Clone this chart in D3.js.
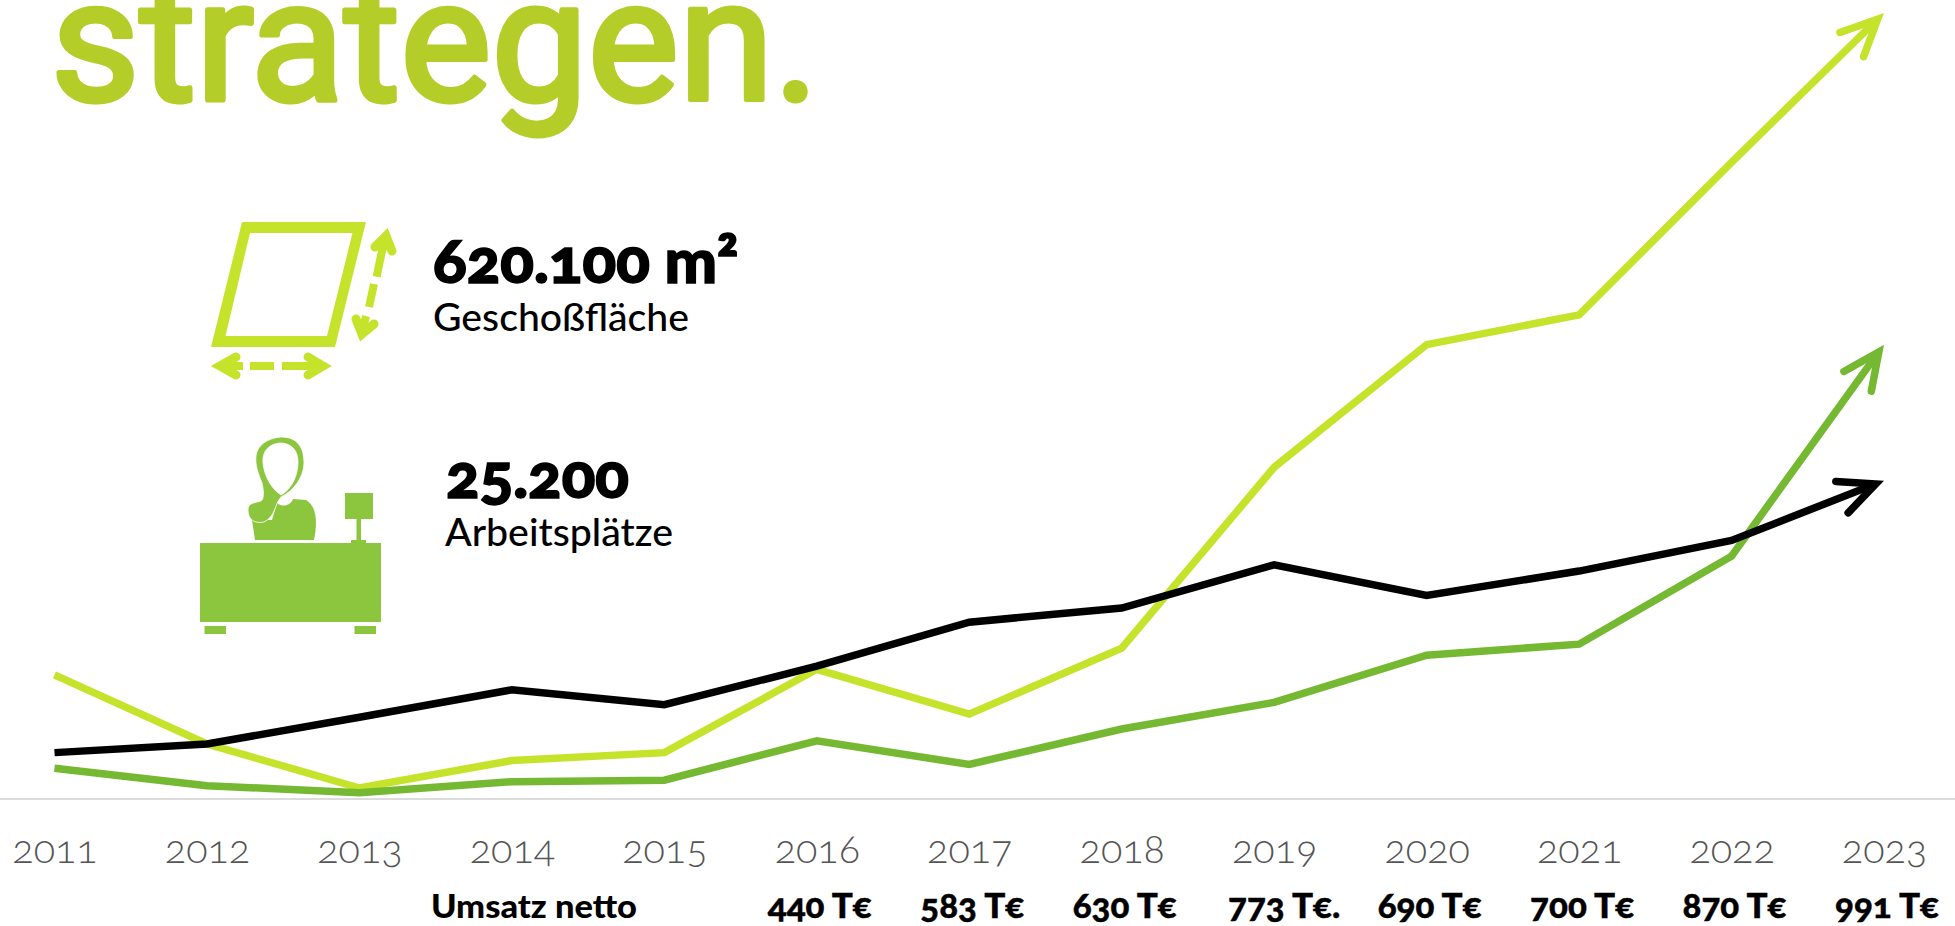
<!DOCTYPE html>
<html>
<head>
<meta charset="utf-8">
<style>
  html, body { margin: 0; padding: 0; background: #fff; overflow: hidden; }
  svg { display: block; }
  text { font-family: Lato, "Open Sans", sans-serif; font-variant-numeric: oldstyle-nums; }
</style>
<script src="https://cdn.jsdelivr.net/npm/d3@7/dist/d3.min.js"></script>
</head>
<body>
<svg id="chart" width="1955" height="926"></svg>
<script>
// data (index, no unit given in the original)
var years = [2011, 2012, 2013, 2014, 2015, 2016, 2017, 2018, 2019, 2020, 2021, 2022, 2023];
var flaeche = [15.8, 7.0, 1.4, 4.9, 5.9, 16.5, 10.8, 19.2, 42.2, 57.8, 61.6, 81.0, 100];
var arbeitsplaetze = [3.9, 1.7, 0.8, 2.2, 2.4, 7.4, 4.4, 8.9, 12.3, 18.3, 19.7, 30.9, 57.8];
var umsatz = [5.9, 7.0, 10.4, 13.9, 12.0, 16.9, 22.5, 24.3, 29.8, 25.9, 29.0, 32.9, 40.5];
var umsatzYears = [2016, 2017, 2018, 2019, 2020, 2021, 2022, 2023];
var umsatzLabels = ['440 T€', '583 T€', '630 T€', '773 T€.', '690 T€', '700 T€', '870 T€', '991 T€'];

var LIGHT = '#c5e32b', GREEN = '#75b832', ICON = '#8cc63f', TITLE = '#b5cd28';

var svg = d3.select('#chart');
var x = d3.scalePoint().domain(years).range([54.5, 1884]);
var y = d3.scaleLinear().domain([0, 100]).range([799, 13]);

// title, cut off by the top edge like in the original
svg.append('text')
  .attr('x', 51).attr('y', 100)
  .attr('textLength', 768).attr('lengthAdjust', 'spacingAndGlyphs')
  .style('font-family', 'Roboto').style('font-weight', 400).style('font-size', '170px')
  .attr('fill', TITLE).attr('stroke', TITLE).attr('stroke-width', 5).attr('stroke-linejoin', 'round')
  .text('strategen.');

// axis
svg.append('line')
  .attr('x1', 0).attr('x2', 1955).attr('y1', 799).attr('y2', 799)
  .attr('stroke', '#dcdcdc').attr('stroke-width', 2);

var axis = svg.append('g')
  .attr('transform', 'translate(0,799)')
  .call(d3.axisBottom(x).tickSize(0).tickPadding(0));
axis.select('.domain').remove();
axis.selectAll('text')
  .attr('y', 64).attr('dy', 0)
  .style('font-size', '39.5px').style('font-weight', 300)
  .attr('fill', '#555');

// line series with arrow heads
var line = d3.line()
  .x(function(d, i) { return x(years[i]); })
  .y(function(d) { return y(d); });

var series = [
  { id: 'flaeche', values: flaeche, color: LIGHT },
  { id: 'arbeit', values: arbeitsplaetze, color: GREEN },
  { id: 'umsatz', values: umsatz, color: '#000' }
];

var defs = svg.append('defs');
var headLen = 40, headAngle = 25 * Math.PI / 180, headW = 7.5;
var apex = -(headW / 2) / Math.sin(headAngle);
var bx = apex - headLen * Math.cos(headAngle), by = headLen * Math.sin(headAngle);

series.forEach(function(s) {
  defs.append('marker')
    .attr('id', 'head-' + s.id)
    .attr('markerUnits', 'userSpaceOnUse')
    .attr('viewBox', '-60 -30 70 60')
    .attr('markerWidth', 70).attr('markerHeight', 60)
    .attr('refX', 0).attr('refY', 0)
    .attr('orient', 'auto')
    .append('path')
    .attr('d', 'M' + bx + ',' + (-by) + 'L' + apex + ',0L' + bx + ',' + by)
    .attr('fill', 'none').attr('stroke', s.color).attr('stroke-width', headW)
    .attr('stroke-linecap', 'round').attr('stroke-linejoin', 'miter');
});

svg.selectAll('path.serie')
  .data(series)
  .enter()
  .append('path')
  .attr('class', 'serie')
  .attr('d', function(d) { return line(d.values); })
  .attr('fill', 'none')
  .attr('stroke', function(d) { return d.color; })
  .attr('stroke-width', 7.5)
  .attr('stroke-linejoin', 'miter')
  .attr('marker-end', function(d) { return 'url(#head-' + d.id + ')'; })
  .attr('stroke-dasharray', function() {
    // stop the shaft short so it does not poke through the arrow tip
    return (this.getTotalLength() - 12) + ' 9999';
  });

// umsatz row
svg.append('text')
  .attr('x', 431).attr('y', 918)
  .attr('textLength', 206).attr('lengthAdjust', 'spacingAndGlyphs')
  .style('font-size', '32px').style('font-weight', 900)
  .text('Umsatz netto');

svg.selectAll('text.umsatz')
  .data(umsatzLabels)
  .enter()
  .append('text')
  .attr('class', 'umsatz')
  .attr('x', function(d, i) {
    // the stray full stop after 773 pushes that label a bit to the right
    return x(umsatzYears[i]) + (d.slice(-1) === '.' ? 10 : 3);
  })
  .attr('y', 918)
  .attr('text-anchor', 'middle')
  .style('font-size', '35px').style('font-weight', 900)
  .attr('stroke', '#000').attr('stroke-width', 0.4)
  .text(function(d) { return d; });

// floor area icon
var area = svg.append('g').attr('fill', LIGHT);
area.append('path')
  .attr('fill-rule', 'evenodd')
  .attr('d', 'M242,222L366,222L335,347L211,347ZM250,233L225.5,336L327,336L352.5,233Z');

var dash = svg.append('g')
  .attr('fill', 'none').attr('stroke', LIGHT).attr('stroke-width', 8);
dash.append('path').attr('d', 'M225,366H243M250,366H274M282,366H318');
dash.append('path').attr('d', 'M386,238L381.6,252.7L376.6,276.7M374,284L369,307M366,316L362,332');

var heads = svg.append('g')
  .attr('fill', 'none').attr('stroke', LIGHT).attr('stroke-width', 9)
  .attr('stroke-linecap', 'round').attr('stroke-linejoin', 'miter');
heads.append('path').attr('d', 'M236,357L220,366L236,375');
heads.append('path').attr('d', 'M308,357L323,366L308,375');
heads.append('path').attr('d', 'M375,247L386,236L392,251');
heads.append('path').attr('d', 'M356,319L362,334L374,324');

// desk icon
var desk = svg.append('g').attr('fill', ICON);
desk.append('rect').attr('x', 200).attr('y', 543).attr('width', 181).attr('height', 79);
desk.append('rect').attr('x', 204.5).attr('y', 626).attr('width', 21.5).attr('height', 8);
desk.append('rect').attr('x', 354.5).attr('y', 626).attr('width', 21.5).attr('height', 8);
desk.append('rect').attr('x', 345).attr('y', 493).attr('width', 28).attr('height', 26);
desk.append('rect').attr('x', 356.5).attr('y', 519).attr('width', 4.5).attr('height', 22);
desk.append('rect').attr('x', 351).attr('y', 540).attr('width', 15).attr('height', 3);
desk.append('path')
  .attr('d', 'M252,520L255,540L314,540C317,525 318,507 306,500L293,499C291,505 283,508 277,503L272,520Z');
desk.append('path')
  .attr('fill-rule', 'evenodd')
  .attr('d', 'M281,437C298,437 304,448 304,463C304,478 292,492 281,497C274,505 276,516 264,522C255,524 248,520 248,510C248,503 254,503 261,501C264,499 264,492 262,483C258,473 255,465 256,456C257,445 268,438 281,437Z' +
    'M280,443C268,444 262,452 263,463C264,474 270,488 281,495C292,489 298,475 298,462C298,450 291,443 280,443Z')
  .attr('stroke', '#fff').attr('stroke-width', 0.8);

// key figures
svg.append('text').attr('x', 433).attr('y', 283)
  .attr('textLength', 305).attr('lengthAdjust', 'spacingAndGlyphs')
  .attr('stroke', '#000').attr('stroke-width', 1.5)
  .style('font-size', '60px').style('font-weight', 900).text('620.100 m²');
svg.append('text').attr('x', 433).attr('y', 331)
  .attr('textLength', 256).attr('lengthAdjust', 'spacingAndGlyphs')
  .style('font-size', '38px').style('font-weight', 500).text('Geschoßfläche');
svg.append('text').attr('x', 446).attr('y', 498)
  .attr('textLength', 183).attr('lengthAdjust', 'spacingAndGlyphs')
  .attr('stroke', '#000').attr('stroke-width', 1.5)
  .style('font-size', '60px').style('font-weight', 900).text('25.200');
svg.append('text').attr('x', 445).attr('y', 546)
  .attr('textLength', 228).attr('lengthAdjust', 'spacingAndGlyphs')
  .style('font-size', '38px').style('font-weight', 500).text('Arbeitsplätze');
</script>
</body>
</html>
